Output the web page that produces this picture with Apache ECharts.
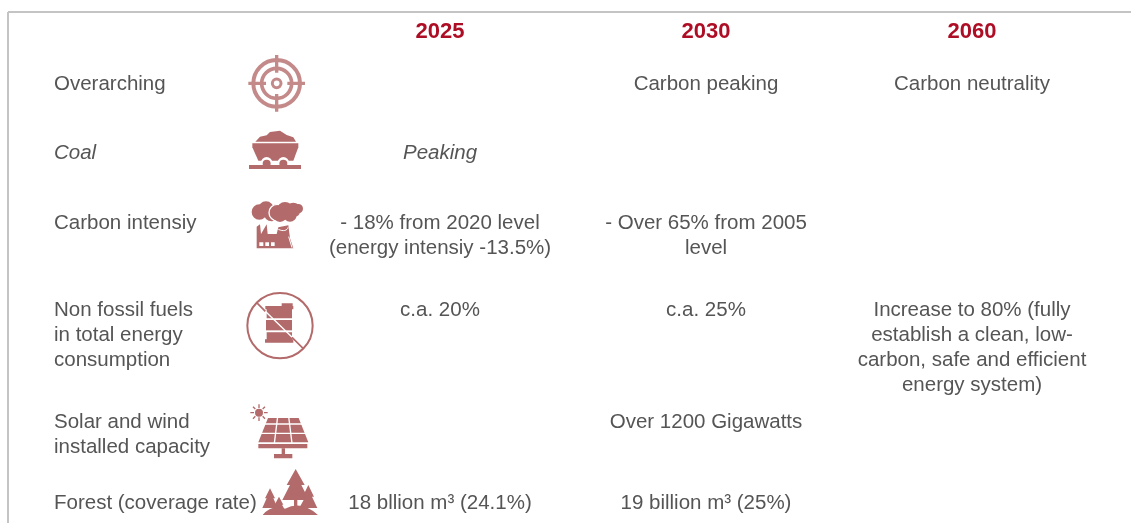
<!DOCTYPE html>
<html lang="en">
<head>
    <meta charset="UTF-8">
    <script src="https://cdn.jsdelivr.net/npm/echarts@6/dist/echarts.min.js"></script>
    <title>China climate targets</title>
    <style>
        html, body { margin: 0; padding: 0; background: #fff; }
        #main { width: 1131px; height: 523px; }
    </style>
</head>
<body>
<div id="main"></div>
<script>
    // table content
    var years = ['2025', '2030', '2060'];
    var rowNames = [
        'Overarching',
        'Coal',
        'Carbon intensiy',
        'Non fossil fuels\nin total energy\nconsumption',
        'Solar and wind\ninstalled capacity',
        'Forest (coverage rate)'
    ];
    var values2025 = ['', 'Peaking', '- 18% from 2020 level\n(energy intensiy -13.5%)', 'c.a. 20%', '', '18 bllion m³ (24.1%)'];
    var values2030 = ['Carbon peaking', '', '- Over 65% from 2005\nlevel', 'c.a. 25%', 'Over 1200 Gigawatts', '19 billion m³ (25%)'];
    var values2060 = ['Carbon neutrality', '', '', 'Increase to 80% (fully\nestablish a clean, low-\ncarbon, safe and efficient\nenergy system)', '', ''];
    var italicRows = ['Coal'];

    // layout, in page pixels (the axes below run 1:1 with the canvas)
    var labelX = 54;
    var yearX = [440, 706, 972];
    var headerY = 32;
    var rowY = [84, 153, 223, 310, 422, 503];
    var lineH = 25;

    var textColor = '#555555';
    var headColor = '#ae0e25';
    var fontName = '"Liberation Sans", Arial, sans-serif';

    // icons, drawn in 3x units from an origin close to each icon
    var iconOrigin = [[230, 40], [230, 40], [230, 40], [230, 280], [230, 280], [230, 280]];
    function dot(cx, cy, r) {
        return 'M' + (cx - r) + ' ' + cy + 'A' + r + ' ' + r + ' 0 1 1 ' + (cx + r) + ' ' + cy +
            'A' + r + ' ' + r + ' 0 1 1 ' + (cx - r) + ' ' + cy + 'Z';
    }
    var red = '#b36a6a';
    var pale = '#c48a8a';
    var icons = [
        // target
        [
            {d: dot(140, 130, 70), stroke: pale, w: 12},
            {d: dot(140, 130, 45), stroke: pale, w: 11},
            {d: dot(140, 130, 13), stroke: pale, w: 9},
            {d: 'M55 130L108 130M172 130L225 130M140 45L140 98M140 162L140 215', stroke: pale, w: 10}
        ],
        // coal cart
        [
            {d: 'M76 305L90 290L110 286L120 276L150 272L170 285L190 292L198 305Z', fill: red},
            {d: 'M67 310L205 310L205 322L190 362L85 362L67 322Z', fill: red},
            {d: dot(110, 368, 17) + dot(160, 368, 17), fill: '#fff'},
            {d: dot(110, 371, 12) + dot(160, 371, 12), fill: red},
            {d: 'M57 375L213 375L213 387L57 387Z', fill: red}
        ],
        // factory and smoke
        [
            {d: dot(88, 516, 23) + dot(108, 508, 24) + dot(125, 520, 24), fill: red},
            {d: dot(142, 518, 25), fill: red, stroke: '#fff', w: 4},
            {d: dot(150, 524, 22) + dot(165, 510, 24) + dot(190, 510, 22) + dot(205, 506, 14) + dot(180, 525, 20), fill: red},
            {d: 'M80 625L80 560L90 553L93 582L110 553L113 582L140 582L145 562L175 556L180 595L190 625Z', fill: red},
            {d: 'M145 568C160 575 172 572 174 562M176 590L186 623', stroke: '#fff', w: 3},
            {d: 'M88 607L100 607L100 618L88 618ZM106 607L117 607L117 618L106 618ZM123 607L134 607L134 618L123 618Z', fill: '#fff'}
        ],
        // crossed out barrel
        [
            {d: dot(150, 137, 98), stroke: red, w: 6},
            {d: 'M155 70L188 70L188 78L155 78ZM106 78L190 78L190 88L186 88L186 115L110 115L110 88L106 88Z', fill: red},
            {d: 'M108 120L186 120L186 151L108 151Z', fill: red},
            {d: 'M110 157L186 157L186 178L190 178L190 188L105 188L105 178L110 178Z', fill: red},
            {d: 'M105 93L188 173', stroke: '#fff', w: 4},
            {d: 'M80 68L106 94M186 172L220 206', stroke: red, w: 5}
        ],
        // solar panel
        [
            {d: dot(87, 398, 12), fill: red},
            {d: 'M87 373L87 384M87 412L87 423M61 398L72 398M102 398L113 398M69 380L76 387M98 409L105 416M69 416L76 409M98 387L105 380', stroke: red, w: 4},
            {d: 'M114 414L206 414L235 487L85 487Z', fill: red},
            {d: 'M85 432L236 432M80 460L240 460M143 410L133 490M176 410L186 490', stroke: '#fff', w: 4},
            {d: 'M85 492L232 492L232 505L85 505Z', fill: red},
            {d: 'M155 505L165 505L165 522L155 522ZM132 522L187 522L187 535L132 535Z', fill: red}
        ],
        // forest
        [
            {d: 'M197 567L224 615L214 615L237 660L202 660L202 690L192 690L192 660L157 660L180 615L170 615Z', fill: red},
            {d: 'M235 615L252 650L246 650L262 684L208 684L226 650L218 650Z', fill: red},
            {d: 'M120 625L135 655L130 655L143 684L97 684L110 655L105 655Z', fill: red},
            {d: 'M147 650L160 674L156 674L166 692L128 692L138 674L134 674Z', fill: red},
            {d: 'M98 705Q125 672 165 686Q215 660 264 705Z', fill: red}
        ]
    ];

    var dom = document.getElementById('main');
    var myChart = echarts.init(dom);

    function cellText(row, col) {
        return [values2025, values2030, values2060][col][row];
    }

    // one data item per table cell: [column, row], column -1 is the row name
    var cellData = [];
    rowNames.forEach(function (name, r) {
        [-1, 0, 1, 2].forEach(function (c) {
            var t = c < 0 ? name : cellText(r, c);
            if (t) cellData.push([c, r]);
        });
    });

    function renderCell(params, api) {
        var c = api.value(0), r = api.value(1);
        var name = rowNames[r];
        var italic = italicRows.indexOf(name) >= 0;
        var pos = api.coord([c < 0 ? labelX : yearX[c], rowY[r] - lineH / 2]);
        return {
            type: 'text',
            x: pos[0],
            y: pos[1],
            style: {
                text: c < 0 ? name : cellText(r, c),
                fill: textColor,
                font: (italic ? 'italic ' : '') + '20.5px ' + fontName,
                lineHeight: lineH,
                align: c < 0 ? 'left' : 'center',
                verticalAlign: 'top'
            }
        };
    }

    function renderHeader(params, api) {
        var c = api.value(0);
        var pos = api.coord([yearX[c], headerY]);
        return {
            type: 'text',
            x: pos[0],
            y: pos[1],
            style: {
                text: years[c],
                fill: headColor,
                font: 'bold 22px ' + fontName,
                align: 'center',
                verticalAlign: 'middle'
            }
        };
    }

    function renderIcon(params, api) {
        var i = api.value(0);
        var pos = api.coord(iconOrigin[i]);
        return {
            type: 'group',
            x: pos[0],
            y: pos[1],
            scaleX: 1 / 3,
            scaleY: 1 / 3,
            children: icons[i].map(function (p) {
                return {
                    type: 'path',
                    shape: {pathData: p.d},
                    style: {
                        fill: p.fill || 'none',
                        stroke: p.stroke || 'none',
                        lineWidth: p.w || 0
                    }
                };
            })
        };
    }

    myChart.setOption({
        animation: false,
        grid: {left: 0, right: 0, top: 0, bottom: 0},
        xAxis: {type: 'value', min: 0, max: 1131, show: false},
        yAxis: {type: 'value', min: 0, max: 523, inverse: true, show: false},
        graphic: [
            {type: 'line', shape: {x1: 8, y1: 12, x2: 1131, y2: 12}, style: {stroke: '#c4c4c4', lineWidth: 2}},
            {type: 'line', shape: {x1: 8, y1: 12, x2: 8, y2: 523}, style: {stroke: '#c4c4c4', lineWidth: 2}}
        ],
        series: [
            {type: 'custom', coordinateSystem: 'cartesian2d', clip: false, silent: true,
                encode: {x: 0, y: 1}, data: cellData, renderItem: renderCell},
            {type: 'custom', coordinateSystem: 'cartesian2d', clip: false, silent: true,
                encode: {x: 0}, data: years.map(function (y, i) { return [i]; }), renderItem: renderHeader},
            {type: 'custom', coordinateSystem: 'cartesian2d', clip: false, silent: true,
                encode: {x: 0}, data: icons.map(function (ic, i) { return [i]; }), renderItem: renderIcon}
        ]
    });
</script>
</body>
</html>
